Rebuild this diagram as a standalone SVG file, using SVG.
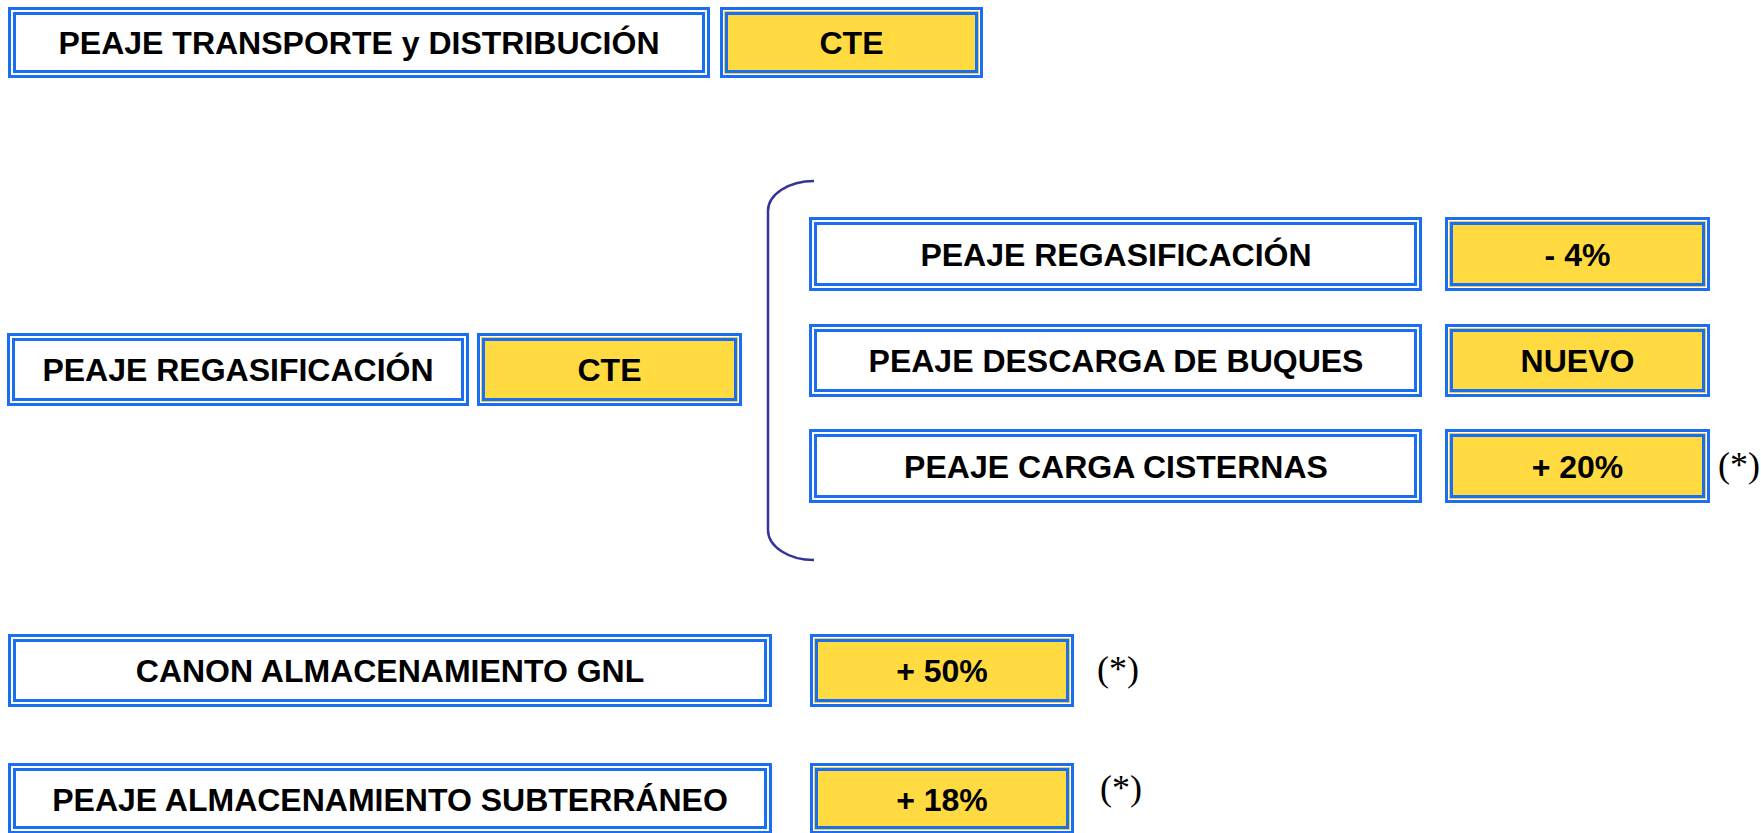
<svg xmlns="http://www.w3.org/2000/svg" width="1761" height="833" viewBox="0 0 1761 833">
<style>
.bg{fill:#ffffff}
.ow{fill:#ffffff;stroke:#1A6EF2;stroke-width:3}
.iw{fill:none;stroke:#1A6EF2;stroke-width:3}
.yb{fill:#F2CF3E}
.iy{fill:#FFDA40;stroke:#1A6EF2;stroke-width:3}
.t{font-family:"Liberation Sans",Arial,sans-serif;font-weight:bold;font-size:32px;text-anchor:middle;fill:#000}
.s{font-family:"Liberation Serif","Times New Roman",serif;font-size:36px;fill:#000}
.br{fill:none;stroke:#35349A;stroke-width:2.5}
</style>
<rect class="bg" x="0" y="0" width="1761" height="833"/>

<g id="connectors">
<path class="br" d="M 814 181 A 46 30 0 0 0 768 211 L 768 530 A 46 30 0 0 0 814 560"/>
</g>

<g id="n-transporte">
<rect class="ow" x="9.5" y="8.5" width="699" height="68"/>
<rect class="iw" x="14.5" y="13.5" width="689" height="58"/>
<text class="t" x="359" y="54">PEAJE TRANSPORTE y DISTRIBUCIÓN</text>
</g>
<g id="v-transporte">
<rect class="ow" x="721.5" y="8.5" width="260" height="68"/>
<rect class="yb" x="724" y="11" width="255" height="63"/>
<rect class="iy" x="726.5" y="13.5" width="250" height="58"/>
<text class="t" x="851.5" y="54">CTE</text>
</g>

<g id="n-regas-left">
<rect class="ow" x="8.5" y="334.5" width="459" height="70"/>
<rect class="iw" x="13.5" y="339.5" width="449" height="60"/>
<text class="t" x="238" y="381">PEAJE REGASIFICACIÓN</text>
</g>
<g id="v-regas-left">
<rect class="ow" x="478.5" y="334.5" width="262" height="70"/>
<rect class="yb" x="481" y="337" width="257" height="65"/>
<rect class="iy" x="483.5" y="339.5" width="252" height="60"/>
<text class="t" x="609.5" y="381">CTE</text>
</g>

<g id="n-regas">
<rect class="ow" x="810.5" y="218.5" width="610" height="71"/>
<rect class="iw" x="815.5" y="223.5" width="600" height="61"/>
<text class="t" x="1116" y="265.5">PEAJE REGASIFICACIÓN</text>
</g>
<g id="v-regas">
<rect class="ow" x="1446.5" y="218.5" width="262" height="71"/>
<rect class="yb" x="1449" y="221" width="257" height="66"/>
<rect class="iy" x="1451.5" y="223.5" width="252" height="61"/>
<text class="t" x="1577.5" y="265.5">- 4%</text>
</g>

<g id="n-descarga">
<rect class="ow" x="810.5" y="325.5" width="610" height="70"/>
<rect class="iw" x="815.5" y="330.5" width="600" height="60"/>
<text class="t" x="1116" y="372">PEAJE DESCARGA DE BUQUES</text>
</g>
<g id="v-descarga">
<rect class="ow" x="1446.5" y="325.5" width="262" height="70"/>
<rect class="yb" x="1449" y="328" width="257" height="65"/>
<rect class="iy" x="1451.5" y="330.5" width="252" height="60"/>
<text class="t" x="1577.5" y="372">NUEVO</text>
</g>

<g id="n-cisternas">
<rect class="ow" x="810.5" y="430.5" width="610" height="71"/>
<rect class="iw" x="815.5" y="435.5" width="600" height="61"/>
<text class="t" x="1116" y="477.5">PEAJE CARGA CISTERNAS</text>
</g>
<g id="v-cisternas">
<rect class="ow" x="1446.5" y="430.5" width="262" height="71"/>
<rect class="yb" x="1449" y="433" width="257" height="66"/>
<rect class="iy" x="1451.5" y="435.5" width="252" height="61"/>
<text class="t" x="1577.5" y="477.5">+ 20%</text>
</g>
<text class="s" x="1718" y="477">(*)</text>

<g id="n-canon">
<rect class="ow" x="9.5" y="635.5" width="761" height="70"/>
<rect class="iw" x="14.5" y="640.5" width="751" height="60"/>
<text class="t" x="390" y="682">CANON ALMACENAMIENTO GNL</text>
</g>
<g id="v-canon">
<rect class="ow" x="811.5" y="635.5" width="261" height="70"/>
<rect class="yb" x="814" y="638" width="256" height="65"/>
<rect class="iy" x="816.5" y="640.5" width="251" height="60"/>
<text class="t" x="942" y="682">+ 50%</text>
</g>
<text class="s" x="1097" y="681">(*)</text>

<g id="n-subterraneo">
<rect class="ow" x="9.5" y="764.5" width="761" height="68"/>
<rect class="iw" x="14.5" y="769.5" width="751" height="58"/>
<text class="t" x="390" y="811">PEAJE ALMACENAMIENTO SUBTERRÁNEO</text>
</g>
<g id="v-subterraneo">
<rect class="ow" x="811.5" y="764.5" width="261" height="68"/>
<rect class="yb" x="814" y="767" width="256" height="63"/>
<rect class="iy" x="816.5" y="769.5" width="251" height="58"/>
<text class="t" x="942" y="811">+ 18%</text>
</g>
<text class="s" x="1100" y="800">(*)</text>
</svg>
